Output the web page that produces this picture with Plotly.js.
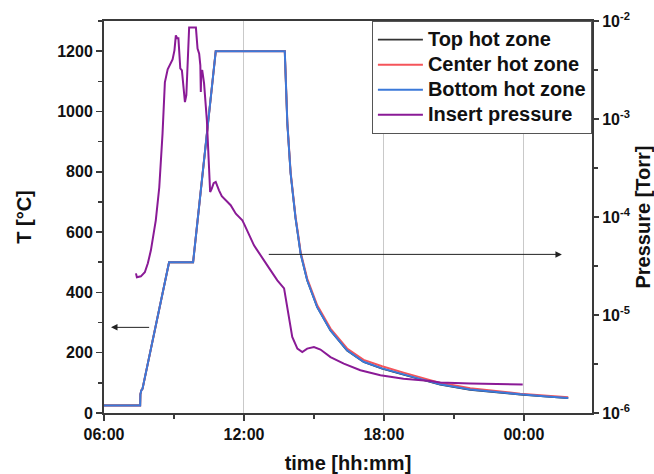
<!DOCTYPE html>
<html>
<head>
<meta charset="utf-8">
<script src="https://cdn.plot.ly/plotly-3.0.1.min.js"></script>
<style>html,body{margin:0;padding:0;background:#fff;}</style>
</head>
<body>
<div id="chart" style="width:654px;height:474px;"></div>
<script>
// ---- data (time in hours since 00:00 of day 1; >24 = next day) ----
const zoneTime   = [6.0, 7.55, 7.56, 7.60, 7.65, 8.79, 9.82, 10.79, 13.75, 13.78, 13.86, 14.0, 14.21, 14.35, 14.43, 14.71, 15.14, 15.71, 16.42, 17.13, 17.92, 18.84, 19.56, 20.41, 21.7, 23.0, 23.84, 25.0, 25.9];
const topZone    = [25, 25, 62, 75, 80, 500, 500, 1200, 1200, 1126, 960, 795, 647, 572, 528, 440, 351, 274, 207, 169, 147, 127, 112, 94, 77, 66, 61, 54, 49];
const centerZone = [25, 25, 62, 75, 80, 500, 500, 1200, 1200, 1126, 962, 798, 651, 577, 533, 446, 357, 280, 214, 176, 155, 134, 119, 100, 82, 70, 64, 57, 52];
const bottomZone = [25, 25, 62, 75, 80, 500, 500, 1200, 1200, 1126, 960, 795, 647, 572, 528, 440, 351, 274, 208, 170, 148, 128, 113, 95, 78, 67, 62, 55, 50];

const pTime = [7.37, 7.41, 7.58, 7.75, 7.88, 8.01, 8.15, 8.22, 8.37, 8.44, 8.51, 8.61, 8.73, 8.94, 9.02, 9.08, 9.14, 9.19, 9.23, 9.27, 9.34, 9.40, 9.47, 9.53, 9.57, 9.65, 9.94, 10.01, 10.08, 10.13, 10.15, 10.17, 10.21, 10.29, 10.41, 10.46, 10.55, 10.62, 10.70, 10.79, 10.87, 10.93, 11.05, 11.22, 11.43, 11.65, 11.93, 12.0, 12.43, 13.0, 13.43, 13.72, 13.81, 13.93, 14.07, 14.29, 14.5, 14.71, 15.0, 15.28, 15.71, 16.28, 16.99, 17.85, 18.84, 19.99, 20.41, 21.7, 23.84, 23.95];
const pressure = [2.66e-5, 2.43e-5, 2.48e-5, 2.73e-5, 3.37e-5, 4.57e-5, 7.31e-5, 9.25e-5, 2.01e-4, 3.80e-4, 7.13e-4, 2.37e-3, 3.21e-3, 4.06e-3, 5.02e-3, 7.14e-3, 6.65e-3, 6.65e-3, 4.47e-3, 3.29e-3, 3.14e-3, 2.21e-3, 1.49e-3, 1.75e-3, 2.79e-3, 8.57e-3, 8.57e-3, 5.22e-3, 4.65e-3, 3.53e-3, 1.89e-3, 3.02e-3, 3.16e-3, 2.31e-3, 9.70e-4, 4.47e-4, 1.80e-4, 1.95e-4, 2.21e-4, 2.28e-4, 2.01e-4, 1.87e-4, 1.63e-4, 1.48e-4, 1.32e-4, 1.08e-4, 9.25e-5, 8.57e-5, 5.14e-5, 3.21e-5, 2.26e-5, 1.87e-5, 1.41e-5, 8.83e-6, 5.97e-6, 4.54e-6, 4.19e-6, 4.54e-6, 4.71e-6, 4.44e-6, 3.72e-6, 3.19e-6, 2.73e-6, 2.43e-6, 2.24e-6, 2.12e-6, 2.05e-6, 2.0e-6, 1.95e-6, 1.95e-6];

const seriesNames   = ['Top hot zone', 'Center hot zone', 'Bottom hot zone', 'Insert pressure'];
const timeTickVals  = [6, 12, 18, 24];
const timeTickText  = ['06:00', '12:00', '18:00', '00:00'];
const pTickVals     = [1e-6, 1e-5, 1e-4, 1e-3, 1e-2];
const pTickText     = ['10<sup>-6</sup>', '10<sup>-5</sup>', '10<sup>-4</sup>', '10<sup>-3</sup>', '10<sup>-2</sup>'];
const pMinorVals    = [3.16e-6, 3.16e-5, 3.16e-4, 3.16e-3];

const FONT = 'Liberation Sans, Arial, sans-serif';
const AX = '#3a3a3a';
const big = s => '<span style="font-size:20px">' + s + '</span>';

const traces = [
  {x: zoneTime, y: topZone, name: big(seriesNames[0]), mode: 'lines', line: {color: '#333333', width: 1.8}},
  {x: zoneTime, y: centerZone, name: big(seriesNames[1]), mode: 'lines', line: {color: '#f5545a', width: 2}},
  {x: zoneTime, y: bottomZone, name: big(seriesNames[2]), mode: 'lines', line: {color: '#3b79d9', width: 2}},
  {x: pTime, y: pressure, name: big(seriesNames[3]), mode: 'lines', yaxis: 'y2', line: {color: '#8a1a96', width: 2}}
];

const layout = {
  width: 654, height: 474,
  margin: {l: 104, r: 62, t: 21, b: 61},
  paper_bgcolor: '#fff', plot_bgcolor: '#fff',
  font: {family: FONT, size: 16, color: '#111', weight: 700},
  showlegend: true,
  legend: {
    x: 0.549, y: 1.0, xanchor: 'left', yanchor: 'top',
    bordercolor: '#555', borderwidth: 1, bgcolor: '#fff',
    font: {family: FONT, size: 17, color: '#111', weight: 700},
    itemwidth: 45, tracegroupgap: 0
  },
  xaxis: {
    range: [6, 26.92], tickmode: 'array', tickvals: timeTickVals, ticktext: timeTickText,
    ticks: 'outside', ticklen: 6, tickwidth: 1.5, tickcolor: AX,
    showline: true, linecolor: AX, linewidth: 2, mirror: true,
    showgrid: true, gridcolor: '#c9c9c9', gridwidth: 1, zeroline: false,
    minor: {tickmode: 'linear', tick0: 6, dtick: 3, ticks: 'outside', ticklen: 4, tickwidth: 1.5, tickcolor: AX, showgrid: false},
    tickfont: {size: 16, weight: 700},
    title: {text: 'time [hh:mm]', font: {size: 20, weight: 700}, standoff: 14}
  },
  xaxis2: {
    overlaying: 'x', side: 'top', range: [6, 26.92], tickmode: 'array', tickvals: timeTickVals,
    showticklabels: false, ticks: 'inside', ticklen: 5, tickwidth: 1.5, tickcolor: AX,
    showline: false, showgrid: false, zeroline: false,
    minor: {tickmode: 'linear', tick0: 6, dtick: 3, ticks: 'inside', ticklen: 4, tickwidth: 1.5, tickcolor: AX, showgrid: false}
  },
  yaxis: {
    range: [0, 1300], tickmode: 'linear', tick0: 0, dtick: 200,
    ticks: 'outside', ticklen: 6, tickwidth: 1.5, tickcolor: AX,
    showline: true, linecolor: AX, linewidth: 2, showgrid: false, zeroline: false,
    minor: {tickmode: 'linear', tick0: 0, dtick: 100, ticks: 'outside', ticklen: 4, tickwidth: 1.5, tickcolor: AX},
    tickfont: {size: 16, weight: 700},
    title: {text: 'T [°C]', font: {size: 20, weight: 700}, standoff: 20}
  },
  yaxis2: {
    overlaying: 'y', side: 'right', type: 'log', range: [-6, -2],
    tickmode: 'array', tickvals: pTickVals, ticktext: pTickText,
    ticks: 'outside', ticklen: 5, tickwidth: 1.5, tickcolor: AX,
    showline: true, linecolor: AX, linewidth: 2, showgrid: false, zeroline: false,
    minor: {tickmode: 'array', tickvals: pMinorVals, ticks: 'outside', ticklen: 4, tickwidth: 1.5, tickcolor: AX},
    tickfont: {size: 16, weight: 700},
    title: {text: 'Pressure [Torr]', font: {size: 20, weight: 700}, standoff: 10}
  },
  yaxis3: {
    overlaying: 'y', side: 'right', type: 'log', range: [-6, -2],
    tickmode: 'array', tickvals: pTickVals, showticklabels: false,
    ticks: 'inside', ticklen: 5, tickwidth: 1.5, tickcolor: AX,
    showline: false, showgrid: false, zeroline: false,
    minor: {tickmode: 'array', tickvals: pMinorVals, ticks: 'inside', ticklen: 4, tickwidth: 1.5, tickcolor: AX}
  },
  annotations: [
    {x: 6.3, y: 284, ax: 8.0, ay: 284, xref: 'x', yref: 'y', axref: 'x', ayref: 'y',
     text: '', showarrow: true, arrowhead: 2, arrowsize: 1.3, arrowwidth: 1, arrowcolor: '#222'},
    {x: 25.63, y: 526, ax: 13.0, ay: 526, xref: 'x', yref: 'y', axref: 'x', ayref: 'y',
     text: '', showarrow: true, arrowhead: 2, arrowsize: 1.3, arrowwidth: 1, arrowcolor: '#222'}
  ]
};

Plotly.newPlot('chart', traces, layout, {staticPlot: true, displayModeBar: false});
</script>
</body>
</html>
